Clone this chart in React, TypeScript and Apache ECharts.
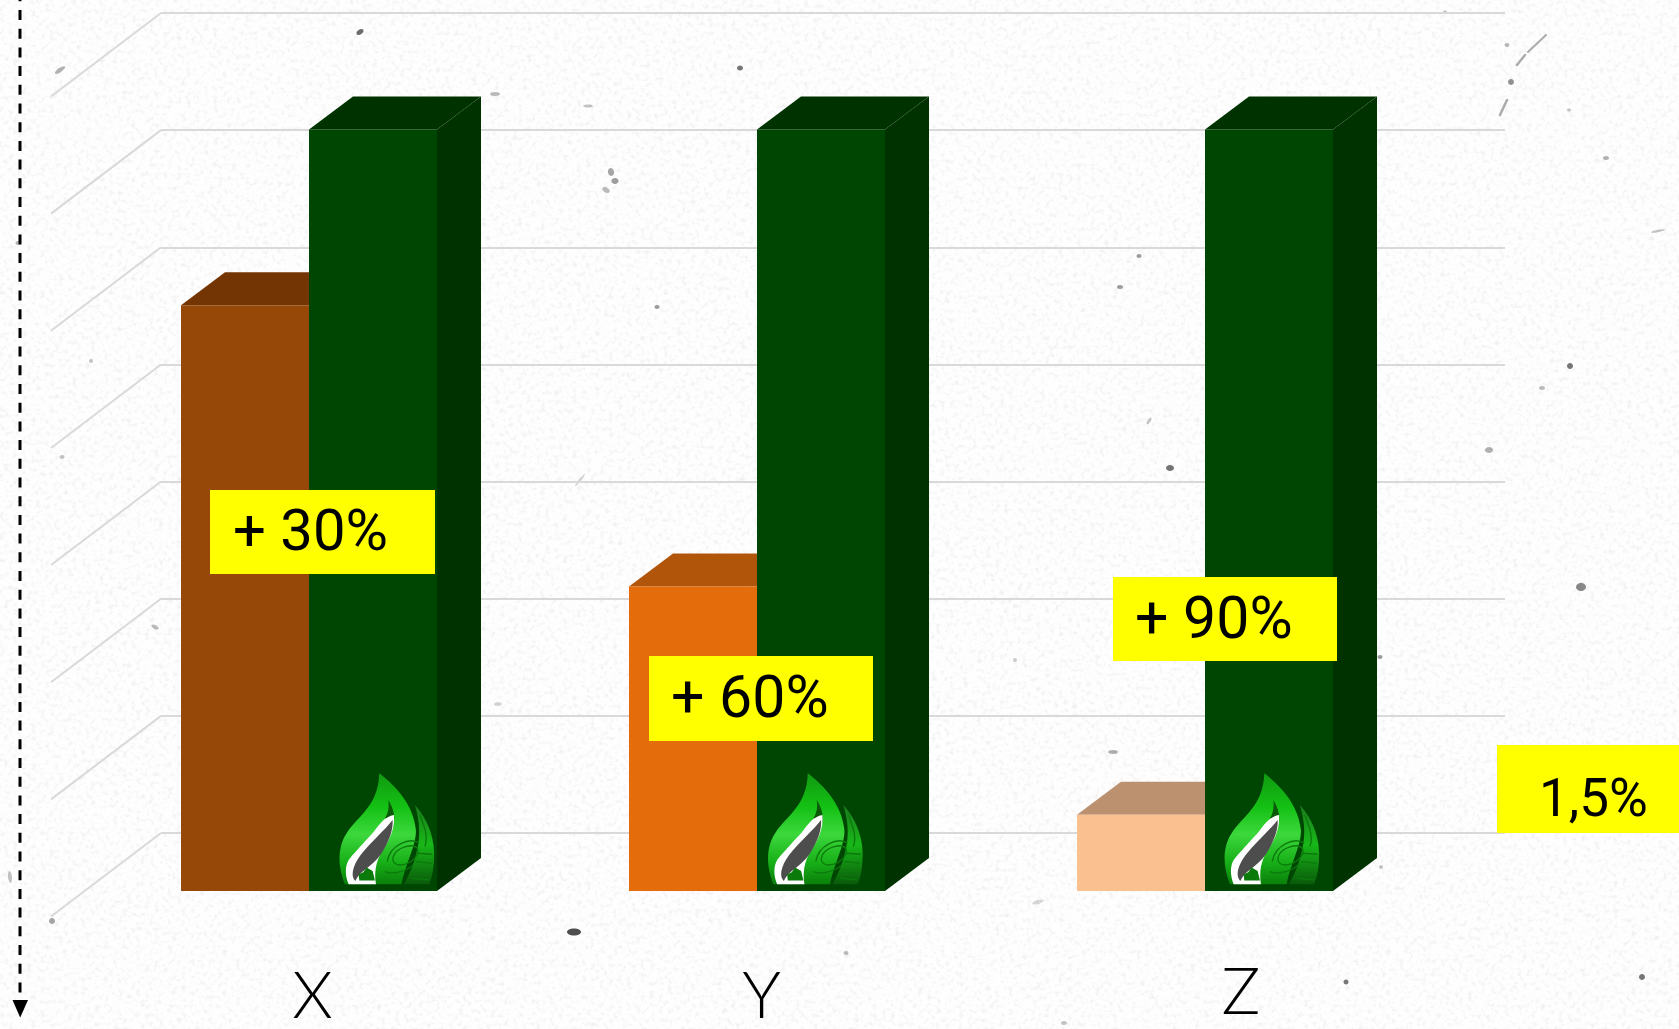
import React, { useEffect, useRef } from "react";
import * as echarts from "echarts";

const categories = ["X", "Y", "Z"];
const ticks = [0, 1, 2, 3, 4, 5, 6, 7];
const baselineValues = [5.0, 2.6, 0.65];
const biobasedValues = [6.5, 6.5, 6.5];
const baselineFront = ["#964808", "#e46c0a", "#fac090"];
const baselineTop = ["#743504", "#b0550a", "#bc9170"];
const greenFront = "#004603";
const greenDark = "#003200";
const callouts = [
  { text: "+ 30%", x: 210, y: 490, w: 225, h: 84, tx: 233, dy: -2, size: 58 },
  { text: "+ 60%", x: 649, y: 656, w: 224, h: 85, tx: 671, dy: -2, size: 59 },
  { text: "+ 90%", x: 1113, y: 577, w: 224, h: 84, tx: 1135, dy: -2, size: 59 },
  { text: "1,5%", x: 1497, y: 745, w: 182, h: 88, tx: 1539, dy: 9, size: 53 },
];
const logoOrigins = [[330, 765], [758.5, 765], [1215, 765]];
// specks: x, y, rx, ry, rotation, grey opacity
const specks = [
  [360, 32, 4, 2.5, 0.6, 0.75], [60, 70, 6, 2, 0.6, 0.4], [495, 94, 5, 2, 0, 0.35], [740, 68, 3, 2.5, 0, 0.7],
  [588, 106, 5, 1.5, 0, 0.3], [611, 172, 3, 4, 0.3, 0.45], [615, 181, 3.5, 3, 0, 0.5], [606, 190, 4, 2.5, -0.5, 0.35],
  [1170, 468, 4, 3, 0, 0.7], [574, 932, 7, 3.5, 0, 0.9],
  [1570, 366, 3, 3, 0, 0.7], [1581, 587, 5, 4, 0, 0.6], [1642, 977, 3, 3, 0, 0.7], [1346, 982, 2.5, 2.5, 0, 0.7],
  [1489, 450, 4, 3, 0, 0.4], [1120, 287, 3, 2, 0, 0.5], [1139, 256, 2.5, 2, 0, 0.5], [657, 307, 2.5, 2, 0, 0.5],
  [498, 704, 4, 2, 0, 0.2], [1113, 752, 5, 2, 0, 0.4], [1038, 902, 6, 2, 0.3, 0.2], [1606, 158, 3, 2, 0, 0.4],
  [1380, 657, 2.5, 2, 0, 0.5], [1542, 388, 3, 2, 0, 0.35], [1149, 421, 4, 1.5, 1, 0.3], [580, 480, 8, 1.2, 0.9, 0.2],
  [1658, 231, 7, 1.2, 0.2, 0.3], [10, 877, 2, 6, 0.1, 0.3], [155, 627, 4, 2, -0.5, 0.35], [91, 361, 2, 2, 0, 0.3],
  [62, 457, 2.5, 2, 0, 0.3], [846, 953, 2.5, 2, 0, 0.35], [1064, 1023, 3, 2, 0, 0.3], [1381, 867, 2, 2, 0, 0.3],
  [52, 921, 3, 3, 0, 0.45], [1015, 660, 2, 2, 0, 0.25], [18, 243, 2.5, 2, 0, 0.35], [1207, 620, 3, 1.5, 0, 0.3],
  [1569, 110, 2, 1.5, 0, 0.3], [1445, 12, 2, 1.5, 0, 0.3], [1507, 45, 2.5, 2, 0, 0.35], [1511, 82, 3, 3, 0, 0.55],
];
const streaks = [
  [1546, 35, 1528, 52, 2], [1525, 55, 1517, 65, 2.5], [1507, 100, 1500, 115, 2.5],
];

const DEPTH_X = 110, DEPTH_Y = 83.5;
const BAR_DX = 44, BAR_DY = 33, BAR_W = 128, FRONT_X = 76, FRONT_Y = 58;

const LEAF_MAIN = "M148 25 C200 65 250 120 258 195 C260 240 225 300 215 358 L45 358 C25 310 20 250 50 205 C85 150 145 125 148 25 Z";
const LEAF_SIDE = "M255 120 C295 165 318 225 312 290 C310 320 305 340 298 358 L222 358 C245 320 268 260 268 200 C268 170 262 145 255 120 Z";
const LEAF_NOTCH = "M175 105 C188 125 196 150 192 172 L165 160 C175 145 178 125 175 105 Z";
const LEAF_WHITE = "M192 150 C196 190 178 225 162 250 C145 275 130 310 138 358 L56 358 C46 335 44 305 56 285 C85 250 110 225 132 200 C150 175 165 155 192 150 Z";
const LEAF_GREY = "M188 165 C190 195 178 228 153 268 C138 288 122 302 102 317 C90 326 82 336 76 348 C62 335 66 305 92 270 C122 232 165 195 188 165 Z";
const LEAF_HEART = "M88 347 L86 328 L100 322 L110 308 L128 318 L135 347 Z";
const RIPPLE = "M190 275 C200 245 250 235 262 250 C272 265 250 295 215 300 C195 302 185 290 190 275 Z M172 290 C180 240 240 215 268 235 M165 320 C185 330 230 320 250 300 M262 265 L308 268 M258 290 L305 295 M252 315 L302 320 M245 340 L298 345 M270 150 C285 190 295 215 285 245";

echarts.graphic.registerShape("leafMain", echarts.graphic.extendPath(LEAF_MAIN, {}));
echarts.graphic.registerShape("leafSide", echarts.graphic.extendPath(LEAF_SIDE, {}));
echarts.graphic.registerShape("leafNotch", echarts.graphic.extendPath(LEAF_NOTCH, {}));
echarts.graphic.registerShape("leafWhite", echarts.graphic.extendPath(LEAF_WHITE, {}));
echarts.graphic.registerShape("leafGrey", echarts.graphic.extendPath(LEAF_GREY, {}));
echarts.graphic.registerShape("leafHeart", echarts.graphic.extendPath(LEAF_HEART, {}));
echarts.graphic.registerShape("leafRipple", echarts.graphic.extendPath(RIPPLE, {}));

const paper =
  "url(\"data:image/svg+xml;utf8," +
  encodeURIComponent(
    `<svg xmlns='http://www.w3.org/2000/svg' width='1679' height='1029'><filter id='n' x='0' y='0' width='100%' height='100%'><feTurbulence type='fractalNoise' baseFrequency='0.22' numOctaves='3' seed='7'/><feColorMatrix type='matrix' values='0 0 0 0 0.45 0 0 0 0 0.45 0 0 0 0 0.45 3.2 0 0 0 -1.6'/></filter><rect width='1679' height='1029' fill='#fefefe'/><rect width='1679' height='1029' filter='url(#n)' opacity='0.16'/></svg>`
  ) +
  "\")";

function logo(origin: number[]) {
  const s = 1 / 3;
  const grad = {
    type: "linear", x: 0, y: 0, x2: 0, y2: 1,
    colorStops: [
      { offset: 0, color: "#109a10" }, { offset: 0.3, color: "#14c014" },
      { offset: 0.55, color: "#3cd83c" }, { offset: 0.8, color: "#18b018" }, { offset: 1, color: "#0a800a" },
    ],
  };
  const gradSide = {
    type: "linear", x: 0, y: 0, x2: 0, y2: 1,
    colorStops: [
      { offset: 0, color: "#1a7a1c" }, { offset: 0.5, color: "#18b818" }, { offset: 1, color: "#0a5a0a" },
    ],
  };
  const parts = [
    ["leafMain", { fill: grad }],
    ["leafSide", { fill: gradSide }],
    ["leafRipple", { fill: "none", stroke: "#0c7a0c", lineWidth: 4 }],
    ["leafNotch", { fill: "#0a5a08" }],
    ["leafWhite", { fill: "#ffffff" }],
    ["leafGrey", { fill: "#4d4d4d" }],
    ["leafHeart", { fill: "#0a7a0a" }],
  ];
  return {
    type: "group",
    x: origin[0],
    y: origin[1],
    scaleX: s,
    scaleY: s,
    silent: true,
    children: parts.map(([type, style]: any) => ({ type, style, z: 10, silent: true })),
  };
}

function renderBar(left: boolean, fronts: (i: number) => string, tops: (i: number) => string, sides: (i: number) => string) {
  return (params: any, api: any) => {
    const i = params.dataIndex;
    const base = api.coord([api.value(0), 0]);
    const y0 = base[1] + FRONT_Y;
    const yv = api.coord([api.value(0), api.value(1)])[1] + FRONT_Y;
    const x0 = base[0] - FRONT_X - (left ? BAR_W : 0);
    const x1 = x0 + BAR_W;
    return {
      type: "group",
      children: [
        { type: "polygon", shape: { points: [[x1, y0], [x1 + BAR_DX, y0 - BAR_DY], [x1 + BAR_DX, yv - BAR_DY], [x1, yv]] }, style: { fill: sides(i) } },
        { type: "polygon", shape: { points: [[x0, yv], [x1, yv], [x1 + BAR_DX, yv - BAR_DY], [x0 + BAR_DX, yv - BAR_DY]] }, style: { fill: tops(i) } },
        { type: "rect", shape: { x: x0, y: yv, width: BAR_W, height: y0 - yv }, style: { fill: fronts(i) } },
      ],
    };
  };
}

const labelStyle = { fontFamily: "Lato", fontWeight: 300, fontSize: 65, lineHeight: 50, color: "#000" };

export default function App() {
  const ref = useRef<HTMLDivElement>(null);
  useEffect(() => {
    const chart = echarts.init(ref.current!, undefined, { renderer: "svg" });
    const graphicEls: any[] = [
      ...specks.map(([cx, cy, rx, ry, rot, op]) => ({
        type: "ellipse", x: cx, y: cy, rotation: rot, shape: { cx: 0, cy: 0, rx, ry },
        style: { fill: `rgba(60,60,60,${op})` }, z: 0, silent: true,
      })),
      ...streaks.map(([x1, y1, x2, y2, w]) => ({
        type: "line", shape: { x1, y1, x2, y2 }, style: { stroke: "rgba(90,90,90,0.5)", lineWidth: w, lineCap: "round" }, z: 0, silent: true,
      })),
      { type: "line", shape: { x1: 20, y1: -8.7, x2: 20, y2: 1001 }, style: { stroke: "#000", lineWidth: 3, lineDash: [10, 8.7] }, z: 1, silent: true },
      { type: "polygon", shape: { points: [[12.5, 1000], [28, 1000], [20.2, 1017.5]] }, style: { fill: "#000" }, z: 1, silent: true },
      ...logoOrigins.map(logo),
      ...callouts.map((c) => ({
        type: "rect", shape: { x: c.x, y: c.y, width: c.w, height: c.h }, style: { fill: "#ffff00" }, z: 20, silent: true,
      })),
      ...callouts.map((c) => ({
        type: "text", x: c.tx, y: c.y + c.h / 2 + c.dy,
        style: { text: c.text, fill: "#000", font: `400 ${c.size}px Roboto`, verticalAlign: "middle", align: "left" },
        z: 21, silent: true,
      })),
    ];
    chart.setOption({
      animation: false,
      backgroundColor: "transparent",
      grid: { left: 161, right: 174, top: 13, bottom: 196, containLabel: false, outerBoundsMode: "none" },
      xAxis: {
        type: "category",
        data: categories,
        axisLine: { show: false },
        axisTick: { show: false },
        splitLine: { show: false },
        axisLabel: {
          show: true,
          interval: 0,
          margin: 125,
          formatter: (v: string) => `{${v}|${v}}`,
          rich: {
            X: { ...labelStyle, padding: [20, 145, 0, 0] },
            Y: { ...labelStyle, padding: [20, 143, 0, 0] },
            Z: { ...labelStyle, padding: [11, 80, 0, 0] },
          },
        },
      },
      yAxis: {
        type: "value",
        min: 0,
        max: 7,
        interval: 1,
        axisLine: { show: false },
        axisTick: { show: false },
        axisLabel: { show: false },
        splitLine: { show: true, lineStyle: { color: "#d9d9d9", width: 2 } },
      },
      series: [
        {
          type: "custom",
          name: "depth",
          silent: true,
          z: 1,
          data: ticks.map((t) => [0, t]),
          renderItem: (params: any, api: any) => {
            const y = api.coord([0, api.value(1)])[1];
            const x = params.coordSys.x;
            return { type: "line", shape: { x1: x, y1: y, x2: x - DEPTH_X, y2: y + DEPTH_Y }, style: { stroke: "#d9d9d9", lineWidth: 2 } };
          },
        },
        {
          type: "custom",
          name: "Baseline",
          z: 2,
          data: baselineValues.map((v, i) => [i, v]),
          encode: { x: 0, y: 1 },
          renderItem: renderBar(true, (i) => baselineFront[i], (i) => baselineTop[i], (i) => baselineTop[i]),
        },
        {
          type: "custom",
          name: "Biobased",
          z: 3,
          data: biobasedValues.map((v, i) => [i, v]),
          encode: { x: 0, y: 1 },
          renderItem: renderBar(false, () => greenFront, () => greenDark, () => greenDark),
        },
      ],
      graphic: { elements: graphicEls },
    });
    return () => chart.dispose();
  }, []);
  return (
    <div
      ref={ref}
      style={{ position: "absolute", left: 0, top: 0, width: 1679, height: 1029, backgroundColor: "#fefefe", backgroundImage: paper, overflow: "hidden" }}
    />
  );
}
